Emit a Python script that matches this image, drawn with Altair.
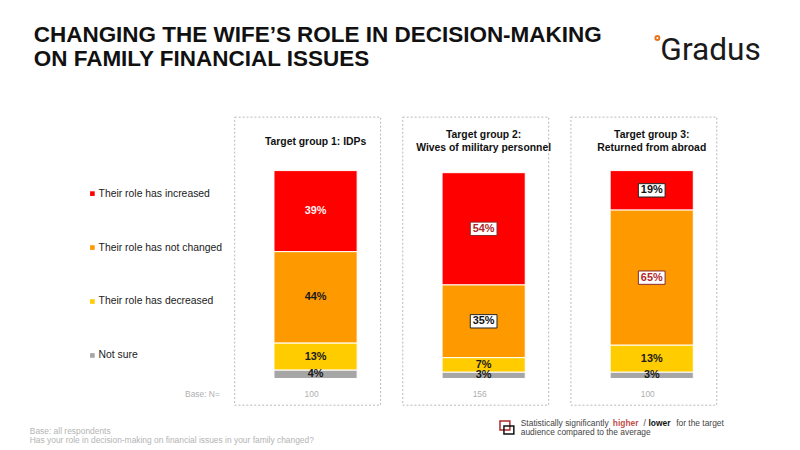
import altair as alt
import pandas as pd

# --- data ---
group_keys = ["g1", "g2", "g3"]
group_titles = [
    "Target group 1: IDPs",
    "Target group 2:\nWives of military  personnel",
    "Target group 3:\nReturned from abroad",
]
base_n = [100, 156, 100]

answers = [
    "Their role has increased",
    "Their role has not changed",
    "Their role has decreased",
    "Not sure",
]
answer_colors = ["#FF0000", "#FF9900", "#FFCC00", "#A6A6A6"]

idps = [39, 44, 13, 4]
wives = [54, 35, 7, 3]
returned = [19, 65, 13, 3]

# significance against the average: "higher", "lower" or ""
sig_idps = ["", "", "", ""]
sig_wives = ["higher", "lower", "", ""]
sig_returned = ["lower", "higher", "", ""]

FONT = "Liberation Sans"

rows = []
for key, values, sigs in zip(group_keys, [idps, wives, returned], [sig_idps, sig_wives, sig_returned]):
    for i, (answer, pct, sig) in enumerate(zip(answers, values, sigs)):
        rows.append(
            {
                "group": key,
                "answer": answer,
                "pct": pct,
                "rank": len(answers) - i,
                "sig": sig,
                "label": f"{pct}%",
            }
        )
df = pd.DataFrame(rows)
groups_df = pd.DataFrame({"group": group_keys, "title": group_titles, "n": base_n})

x_scale = alt.Scale(domain=group_keys, range=[237, 724], paddingInner=0.132, paddingOuter=0)
y_scale = alt.Scale(domain=[0, 100], range=[372, 162])
x_enc = alt.X("group:N", scale=x_scale, axis=None)

stacked = (
    alt.Chart(df)
    .transform_stack(
        stack="pct",
        as_=["y0", "y1"],
        groupby=["group"],
        sort=[alt.SortField("rank", order="ascending")],
    )
    .transform_calculate(mid="(datum.y0 + datum.y1) / 2")
)

panels = (
    alt.Chart(groups_df)
    .mark_rect(fill="white", fillOpacity=0, stroke="#b8b8b8", strokeDash=[2, 2],
               strokeWidth=1, xOffset=-8, x2Offset=-8)
    .encode(x=x_enc, y=alt.value(108), y2=alt.value(399))
)

bars = stacked.mark_bar(width=84, stroke="white", strokeWidth=1).encode(
    x=x_enc,
    y=alt.Y("y0:Q", scale=y_scale, axis=None),
    y2="y1:Q",
    color=alt.Color(
        "answer:N",
        scale=alt.Scale(domain=answers, range=answer_colors),
        legend=alt.Legend(
            orient="none",
            legendX=80,
            legendY=180,
            title=None,
            symbolType="square",
            symbolSize=22,
            symbolStrokeWidth=0,
            labelFont=FONT,
            labelFontSize=10.5,
            labelColor="#1a1a1a",
            labelOffset=1,
            rowPadding=43.5,
        ),
    ),
)

boxes = (
    stacked.transform_filter("datum.sig != ''")
    .transform_calculate(bcolor="datum.sig == 'higher' ? '#8b2b2b' : '#222222'")
    .mark_point(shape="M-1,-0.5H1V0.5H-1Z", size=729, filled=True, fill="white",
                strokeWidth=1, opacity=1)
    .encode(
        x=x_enc,
        y=alt.Y("mid:Q", scale=y_scale, axis=None),
        stroke=alt.Stroke("bcolor:N", scale=None),
    )
)

labels = (
    stacked.transform_calculate(
        tcolor="datum.sig == 'higher' ? '#b0282a' : datum.sig == 'lower' ? '#111111'"
        " : datum.answer == 'Their role has increased' ? '#fff0f0' : '#1a1a1a'"
    )
    .mark_text(font=FONT, fontSize=11, fontWeight="bold", baseline="middle")
    .encode(
        x=x_enc,
        y=alt.Y("mid:Q", scale=y_scale, axis=None),
        text="label:N",
        color=alt.Color("tcolor:N", scale=None),
    )
)

head_style = dict(font=FONT, fontSize=10.5, fontWeight="bold", color="#111111",
                  lineBreak="\n", lineHeight=13, baseline="middle")
heads_one_line = (
    alt.Chart(groups_df)
    .transform_filter("indexof(datum.title, '\\n') < 0")
    .mark_text(**head_style)
    .encode(x=x_enc, y=alt.value(133), text="title:N")
)
heads_two_lines = (
    alt.Chart(groups_df)
    .transform_filter("indexof(datum.title, '\\n') >= 0")
    .mark_text(**head_style)
    .encode(x=x_enc, y=alt.value(126), text="title:N")
)

n_labels = (
    alt.Chart(groups_df)
    .mark_text(font=FONT, fontSize=8.5, color="#b0b0b0", baseline="middle", dx=-4)
    .encode(x=x_enc, y=alt.value(388), text="n:Q")
)


def note(text, x, y, size=8.5, color="#aaaaaa", weight="normal", align="left", font=FONT,
         baseline="middle", line_height=None):
    mark_args = dict(font=font, fontSize=size, color=color, fontWeight=weight,
                     align=align, baseline=baseline, lineBreak="\n")
    if line_height:
        mark_args["lineHeight"] = line_height
    return (
        alt.Chart(pd.DataFrame({"t": [text]}))
        .mark_text(**mark_args)
        .encode(x=alt.value(x), y=alt.value(y), text="t:N")
    )


title = note("CHANGING THE WIFE\u2019S ROLE IN DECISION-MAKING\nON FAMILY FINANCIAL ISSUES",
             26, 32, size=22.7, color="#111111", weight="bold", baseline="alphabetic",
             line_height=24)
logo = note("Gradus", 659, 50, size=32, color="#1a1a1a", font="Roboto",
            baseline="alphabetic")
logo_dot = (
    alt.Chart(pd.DataFrame({"t": [0]}))
    .mark_point(size=16, stroke="#E8731C", strokeWidth=2, filled=False, opacity=1)
    .encode(x=alt.value(656), y=alt.value(28))
)

base_label = note("Base: N=", 214, 388, color="#b0b0b0", align="right")
foot1 = note("Base: all respondents", 22, 425, color="#b4b4b4")
foot2 = note("Has your role in decision-making on financial issues in your family changed?",
             22, 434, color="#b4b4b4")

sig_red = (
    alt.Chart(pd.DataFrame({"t": [0]}))
    .mark_rect(fill="white", fillOpacity=0, stroke="#b0282a", strokeWidth=1.5)
    .encode(x=alt.value(497), x2=alt.value(507), y=alt.value(415), y2=alt.value(424))
)
sig_black = (
    alt.Chart(pd.DataFrame({"t": [0]}))
    .mark_rect(fill="white", fillOpacity=0, stroke="#111111", strokeWidth=1.5)
    .encode(x=alt.value(501), x2=alt.value(511), y=alt.value(420), y2=alt.value(428))
)
sig_text = [
    note("Statistically significantly", 518, 417, color="#444444"),
    note("higher", 611, 417, color="#c0504d", weight="bold"),
    note("/", 642, 417, color="#444444"),
    note("lower", 647, 417, color="#111111", weight="bold"),
    note("for the target", 675, 417, color="#444444"),
    note("audience compared to the average", 518, 426, color="#444444"),
]

chart = (
    alt.layer(
        panels, bars, boxes, labels, heads_one_line, heads_two_lines, n_labels,
        title, logo, logo_dot, base_label, foot1, foot2,
        sig_red, sig_black, *sig_text,
    )
    .properties(width=792, height=442, autosize=alt.AutoSizeParams(type="none"),
                padding=0, background="white")
    .configure_view(stroke=None)
)

chart.save("out.html", embed_options={"renderer": "svg", "actions": False})
